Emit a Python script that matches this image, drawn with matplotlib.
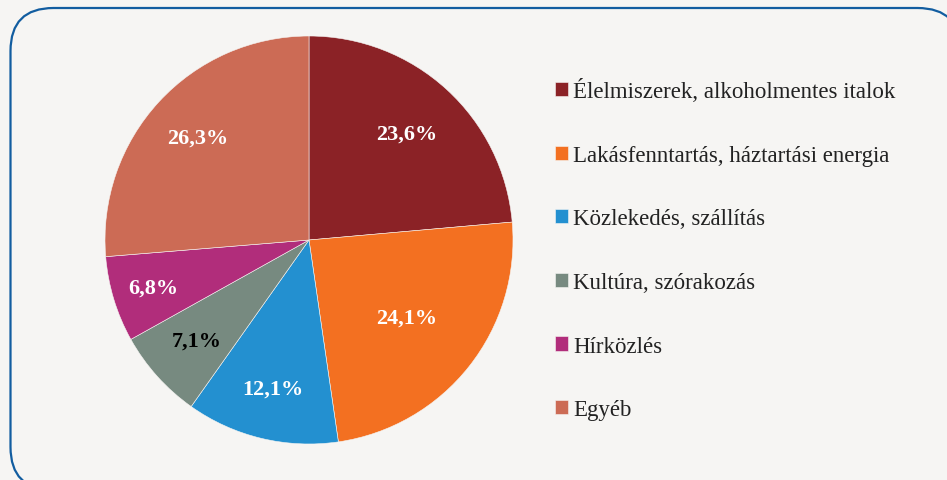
import matplotlib
matplotlib.use("Agg")
import matplotlib.pyplot as plt
from matplotlib.patches import FancyBboxPatch
import numpy as np

categories = ["Élelmiszerek, alkoholmentes italok",
              "Lakásfenntartás, háztartási energia",
              "Közlekedés, szállítás",
              "Kultúra, szórakozás",
              "Hírközlés",
              "Egyéb"]
values = [23.6, 24.1, 12.1, 7.1, 6.8, 26.3]
pct_labels = ["23,6%", "24,1%", "12,1%", "7,1%", "6,8%", "26,3%"]
colors = ["#8B2226", "#F37021", "#2390D0", "#778A80", "#B12D7B", "#CC6B55"]
label_colors = ["white", "white", "white", "black", "white", "white"]
label_dist = [0.71, 0.61, 0.75, 0.74, 0.80, 0.74]

W, H = 947, 481
fig = plt.figure(figsize=(W / 100, H / 100), dpi=100)
bg = "#F6F5F3"
fig.patch.set_facecolor(bg)

# rounded frame (pixel coordinates); filled so Agg does not clip it at the canvas edge
frame = FancyBboxPatch((10.5, -10), 950, 482,
                       boxstyle="round,pad=0,rounding_size=43",
                       transform=None, facecolor=bg,
                       edgecolor="#125DA0", linewidth=1.6, clip_on=False,
                       zorder=-1)
fig.patches.append(frame)

cx, cy, R = 309, 241, 204
ax = fig.add_axes([(cx - R) / W, (H - cy - R) / H, 2 * R / W, 2 * R / H])
ax.set_facecolor("none")
wedges, _ = ax.pie(values, colors=colors, startangle=90, counterclock=False,
                   radius=1.0, wedgeprops=dict(linewidth=0.4, edgecolor=bg))
ax.set_xlim(-1, 1)
ax.set_ylim(-1, 1)
ax.set_aspect("equal")
ax.axis("off")

cum = np.cumsum([0] + values[:-1])
total = sum(values)
for v, c0, lab, lc, d in zip(values, cum, pct_labels, label_colors, label_dist):
    ang = np.deg2rad(90 - 360 * (c0 + v / 2) / total)
    ax.text(d * np.cos(ang), d * np.sin(ang), lab, ha="center", va="center",
            color=lc, fontsize=16, fontweight="bold", family="Liberation Serif")

leg = fig.legend(wedges, categories, loc="upper left",
                 bbox_to_anchor=(546 / W, 1 - 70 / H),
                 frameon=False, prop=dict(family="Liberation Serif", size=16.5),
                 handlelength=0.58, handleheight=0.58, handletextpad=0.2,
                 labelspacing=1.86, borderaxespad=0)
for t in leg.get_texts():
    t.set_color("#222222")

fig.savefig("out.png", dpi=100, facecolor=bg)
